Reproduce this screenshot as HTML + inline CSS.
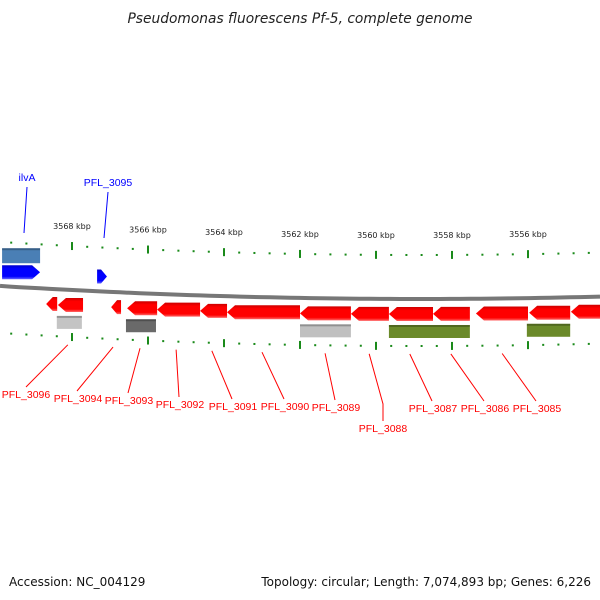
<!DOCTYPE html>
<html><head><meta charset="utf-8"><style>
body{margin:0;background:#fff}
svg{display:block;font-family:"DejaVu Sans","Liberation Sans",sans-serif}
</style></head><body>
<svg id="c" width="600" height="600" viewBox="0 0 600 600">
<defs>
<linearGradient id="gr" x1="0" y1="0" x2="0" y2="1"><stop offset="0" stop-color="#c00"/><stop offset="0.25" stop-color="#f00"/><stop offset="0.8" stop-color="#f00"/><stop offset="1" stop-color="#f66"/></linearGradient>
<linearGradient id="gb" x1="0" y1="0" x2="0" y2="1"><stop offset="0" stop-color="#00c"/><stop offset="0.25" stop-color="#00f"/><stop offset="0.8" stop-color="#00f"/><stop offset="1" stop-color="#66f"/></linearGradient>
</defs>
<text x="300" y="23" text-anchor="middle" font-size="13.8" font-style="italic" fill="#222">Pseudomonas fluorescens Pf-5, complete genome</text>
<text x="9" y="586" font-size="12" fill="#111">Accession: NC_004129</text>
<text x="591" y="586" font-size="12" fill="#111" text-anchor="end">Topology: circular; Length: 7,074,893 bp; Genes: 6,226</text>
<g id="g"></g>
</svg>
<script>
const majorTicks=[3568,3566,3564,3562,3560,3558,3556];
const reverseGenes=[[3568.68,3568.39],[3568.37,3567.71],[3566.97,3566.71],[3566.55,3565.76],[3565.76,3564.63],[3564.63,3563.92],[3563.92,3562.0],[3562.0,3560.66],[3560.66,3559.66],[3559.66,3558.5],[3558.5,3557.53],[3557.37,3556.0],[3555.97,3554.89],[3554.87,3553.5]];
const forwardGenes=[[3569.84,3568.84],[3567.34,3567.08]];
const featureBoxes=[[3568.4,3567.74,'#c4c4c4'],[3566.58,3565.79,'#6a6a6a'],[3562.0,3560.66,'#c0c0c0'],[3559.66,3557.53,'#6b8a2a'],[3556.03,3554.89,'#6b8a2a']];
const topBoxes=[[3569.84,3568.84,'#4a7fb5']];
const labelNames=['PFL_3096','PFL_3094','PFL_3093','PFL_3092','PFL_3091','PFL_3090','PFL_3089','PFL_3088','PFL_3087','PFL_3086','PFL_3085'];
const labelKbp=[3568.11,3566.92,3566.21,3565.26,3564.32,3563.0,3561.34,3560.18,3559.11,3558.03,3556.68];
const labelPos=[[26,398],[78,402],[129,404],[180,408],[233,410],[285,410],[336,411],[383,432],[433,412],[485,412],[537,412]];
const NS='http://www.w3.org/2000/svg';
const G=document.getElementById('g');
function X(k){return 72+(3568-k)*38;}
function curve(x,c){return c-7.4e-5*(x-420)*(x-420);}
function el(t,a){const e=document.createElementNS(NS,t);for(const k in a)e.setAttribute(k,a[k]);G.appendChild(e);return e;}
let d='';for(let x=0;x<=600;x+=10)d+=(x?'L':'M')+x+' '+curve(x,299).toFixed(1);
let bb=el('path',{d:d,stroke:'#777','stroke-width':4,fill:'none'});


for(let k=3570;k>=3553;k-=0.4){
 const kk=Math.round(k*10)/10;const x=X(kk);if(x<0||x>600)continue;
 const maj=Math.abs(kk-Math.round(kk))<0.01&&Math.round(kk)%2===0;
 [255,346].forEach((c,i)=>{const y=curve(x,c);
  const t=el('rect',{x:x-1,y:maj?y-4:y-1,width:2,height:maj?8:2,fill:'#1a8a1a'});
  
  });
}
majorTicks.forEach(k=>{const x=X(k);
 const t=el('text',{x:x,y:curve(x,255)-17,'font-size':8,'text-anchor':'middle',fill:'#222'});t.textContent=k+' kbp';
 
 });
function arrow(a,b,o1,o2,fill,left,name){
 const x1=X(a),x2=Math.min(X(b),620);const y1=curve((x1+x2)/2,299)+o1,y2=curve((x1+x2)/2,299)+o2,m=(y1+y2)/2;let p;
 const h=Math.min(8,(x2-x1)*0.6);
 if(left)p=`M${x1} ${m} L${x1+h} ${y1} L${x2} ${y1} L${x2} ${y2} L${x1+h} ${y2} Z`;
 else p=`M${x2} ${m} L${x2-h} ${y1} L${x1} ${y1} L${x1} ${y2} L${x2-h} ${y2} Z`;
 const e=el('path',{d:p,fill:fill});
 
 }
reverseGenes.forEach(g=>arrow(g[0],g[1],8,22,'url(#gr)',true,'reverse-gene'));
forwardGenes.forEach(g=>arrow(g[0],g[1],-22,-8,'url(#gb)',false,'forward-gene'));
function box(g,o1,o2,name){const x1=X(g[0]),x2=X(g[1]);const y=curve((x1+x2)/2,299);
 const r=el('rect',{x:x1,y:y+o1,width:x2-x1,height:o2-o1,fill:g[2]});
 el('rect',{x:x1,y:y+o1,width:x2-x1,height:2,fill:'#000','fill-opacity':0.25});
 
 }
featureBoxes.forEach(g=>box(g,26,39,'feature-box'));
topBoxes.forEach(g=>box(g,-39,-24,'top-feature-box'));
labelNames.forEach((n,i)=>{const x=X(labelKbp[i]);const y0=curve(x,346)+8;
 const tx=labelPos[i][0], ty=labelPos[i][1];
 const ex=i===0?tx:tx-1, ey=ty-11;
 const ln=el('path',{d:i===7?`M${x} ${y0} L${tx} ${ty-28} L${tx} ${ey}`:`M${x} ${y0} L${ex} ${ey}`,stroke:'#f00','stroke-width':1,fill:'none'});
 
 
 const t=el('text',{x:tx,y:ty,'font-size':10.5,'font-family':'Liberation Sans, sans-serif','text-anchor':'middle',fill:'#f00'});t.textContent=n;
 
 });
[['ilvA',27,181,24,233],['PFL_3095',108,186,104,238]].forEach(a=>{
 const ln=el('path',{d:`M${a[1]} ${a[2]+6} L${a[3]} ${a[4]}`,stroke:'#00f','stroke-width':1});
 
 
 const t=el('text',{x:a[1],y:a[2],'font-size':10.5,'font-family':'Liberation Sans, sans-serif','text-anchor':'middle',fill:'#00f'});t.textContent=a[0];
 
 });
</script>
</body></html>
